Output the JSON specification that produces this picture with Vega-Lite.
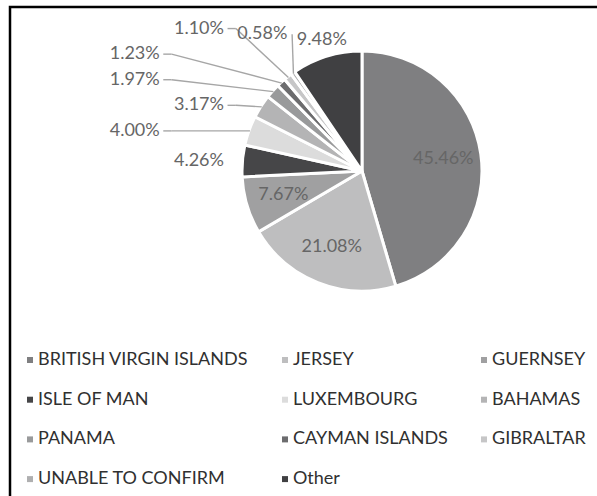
{
  "$schema": "https://vega.github.io/schema/vega-lite/v6.json",
  "width": 587,
  "height": 489,
  "autosize": {"type": "none"},
  "padding": {"left": 10, "top": 7, "right": 0, "bottom": 0},
  "background": "white",
  "config": {
    "view": {"stroke": "black", "strokeWidth": 2.5, "strokeDash": [587, 1076, 489]},
    "font": "Lato",
    "text": {"font": "Lato"}
  },
  "data": {
    "values": [
      {"name": "BRITISH VIRGIN ISLANDS", "pct": 45.46},
      {"name": "JERSEY", "pct": 21.08},
      {"name": "GUERNSEY", "pct": 7.67},
      {"name": "ISLE OF MAN", "pct": 4.26},
      {"name": "LUXEMBOURG", "pct": 4.00},
      {"name": "BAHAMAS", "pct": 3.17},
      {"name": "PANAMA", "pct": 1.97},
      {"name": "CAYMAN ISLANDS", "pct": 1.23},
      {"name": "GIBRALTAR", "pct": 1.10},
      {"name": "UNABLE TO CONFIRM", "pct": 0.58},
      {"name": "Other", "pct": 9.48}
    ]
  },
  "transform": [
    {"window": [{"op": "row_number", "as": "rank"}, {"op": "sum", "field": "pct", "as": "cum"}], "frame": [null, 0]},
    {"calculate": "(datum.cum - datum.pct / 2) / 100 * 2 * PI", "as": "mid"},
    {"calculate": "sin(datum.mid)", "as": "ex"},
    {"calculate": "cos(datum.mid)", "as": "ey"},
    {"calculate": "datum.pct >= 7 && !(datum.ex < 0 && datum.ey > 0.5) ? 'in' : (datum.ey > 0.8 ? 'top' : 'left')", "as": "grp"},
    {"calculate": "datum.grp == 'top' ? -datum.rank : datum.rank", "as": "skey"},
    {"window": [{"op": "row_number", "as": "j1"}], "groupby": ["grp"], "sort": [{"field": "skey"}]},
    {"calculate": "datum.j1 - 1", "as": "j"},
    {"calculate": "datum.grp == 'top' ? 1.15 * datum.ex + datum.j * 0.5 : datum.ey - datum.j * 0.215", "as": "pv"},
    {"window": [{"op": "max", "field": "pv", "as": "pmax"}, {"op": "min", "field": "pv", "as": "pmin"}], "groupby": ["grp"], "sort": [{"field": "skey"}], "frame": [null, 0]},
    {"calculate": "datum.grp == 'in' ? 0.69 * datum.ey : datum.grp == 'top' ? 1.1 + datum.j * 0.05 : datum.pmax + datum.j * 0.215", "as": "ly"},
    {"calculate": "datum.grp == 'left' ? ((datum.j + floor(datum.j / 4)) % 2 == 0 ? -1.16 : -1.70) : datum.grp == 'top' ? datum.pmin - datum.j * 0.5 + 0.21 : 0.69 * datum.ex + 0.21", "as": "xr"},
    {"calculate": "datum.grp == 'in' ? 0.69 * datum.ex : datum.xr - 0.21", "as": "lx"},
    {"calculate": "max(datum.xr - 0.42 - datum.ex, 0, datum.ex - datum.xr)", "as": "ddx"},
    {"calculate": "max(datum.ly - 0.07 - datum.ey, 0, datum.ey - datum.ly - 0.07)", "as": "ddy"},
    {"calculate": "sqrt(datum.ddx * datum.ddx + datum.ddy * datum.ddy)", "as": "dd"},
    {"calculate": "datum.xr + 0.03", "as": "ax"},
    {"calculate": "datum.grp == 'left' ? datum.xr + 0.1 : datum.xr + 0.04", "as": "hx"},
    {"calculate": "format(datum.pct, '.2f') + '%'", "as": "label"}
  ],
  "layer": [
    {
      "mark": {"type": "arc", "outerRadius": 120, "stroke": "white", "strokeWidth": 3},
      "encoding": {
        "x": {"datum": 0, "type": "quantitative", "scale": {"domain": [-2.95798, 1.97479], "nice": false, "zero": false}, "axis": null},
        "y": {"datum": 0, "type": "quantitative", "scale": {"domain": [-2.73109, 1.37815], "nice": false, "zero": false}, "axis": null},
        "theta": {"field": "pct", "type": "quantitative", "stack": true},
        "order": {"field": "rank", "type": "quantitative"},
        "color": {
          "field": "name",
          "type": "nominal",
          "scale": {
            "domain": ["BRITISH VIRGIN ISLANDS", "JERSEY", "GUERNSEY", "ISLE OF MAN", "LUXEMBOURG", "BAHAMAS", "PANAMA", "CAYMAN ISLANDS", "GIBRALTAR", "UNABLE TO CONFIRM", "Other"],
            "range": ["#7f7f81", "#bebebf", "#a0a0a1", "#464648", "#dcdcdc", "#b4b4b5", "#999a9b", "#6c6c6e", "#c6c6c7", "#afafb0", "#404042"]
          },
          "legend": {
            "title": null,
            "orient": "none",
            "legendX": 11,
            "legendY": 344,
            "direction": "horizontal",
            "columns": 3,
            "columnPadding": 27,
            "rowPadding": 21.7,
            "padding": 0,
            "symbolType": "square",
            "symbolSize": 36,
            "symbolStrokeWidth": 0,
            "labelOffset": -1,
            "labelFont": "Lato",
            "labelFontSize": 18,
            "labelColor": "#303030",
            "labelLimit": 400
          }
        }
      }
    },
    {
      "transform": [{"filter": "datum.grp != 'in' && datum.dd > 0.18"}],
      "mark": {"type": "rule", "stroke": "#a6a6a6", "strokeWidth": 1.4},
      "encoding": {
        "x": {"field": "hx", "type": "quantitative"},
        "y": {"field": "ly", "type": "quantitative"},
        "x2": {"field": "ex"},
        "y2": {"field": "ey"}
      }
    },
    {
      "transform": [{"filter": "datum.grp == 'left' && datum.dd > 0.18"}],
      "mark": {"type": "rule", "stroke": "#a6a6a6", "strokeWidth": 1.4},
      "encoding": {
        "x": {"field": "ax", "type": "quantitative"},
        "x2": {"field": "hx"},
        "y": {"field": "ly", "type": "quantitative"}
      }
    },
    {
      "transform": [{"filter": "datum.grp == 'left'"}],
      "mark": {"type": "text", "align": "right", "baseline": "middle", "font": "Lato", "fontSize": 18, "color": "#666666"},
      "encoding": {
        "x": {"field": "xr", "type": "quantitative"},
        "y": {"field": "ly", "type": "quantitative"},
        "text": {"field": "label"}
      }
    },
    {
      "transform": [{"filter": "datum.grp != 'left'"}],
      "mark": {"type": "text", "align": "center", "baseline": "middle", "font": "Lato", "fontSize": 18, "color": "#666666"},
      "encoding": {
        "x": {"field": "lx", "type": "quantitative"},
        "y": {"field": "ly", "type": "quantitative"},
        "text": {"field": "label"}
      }
    }
  ]
}
